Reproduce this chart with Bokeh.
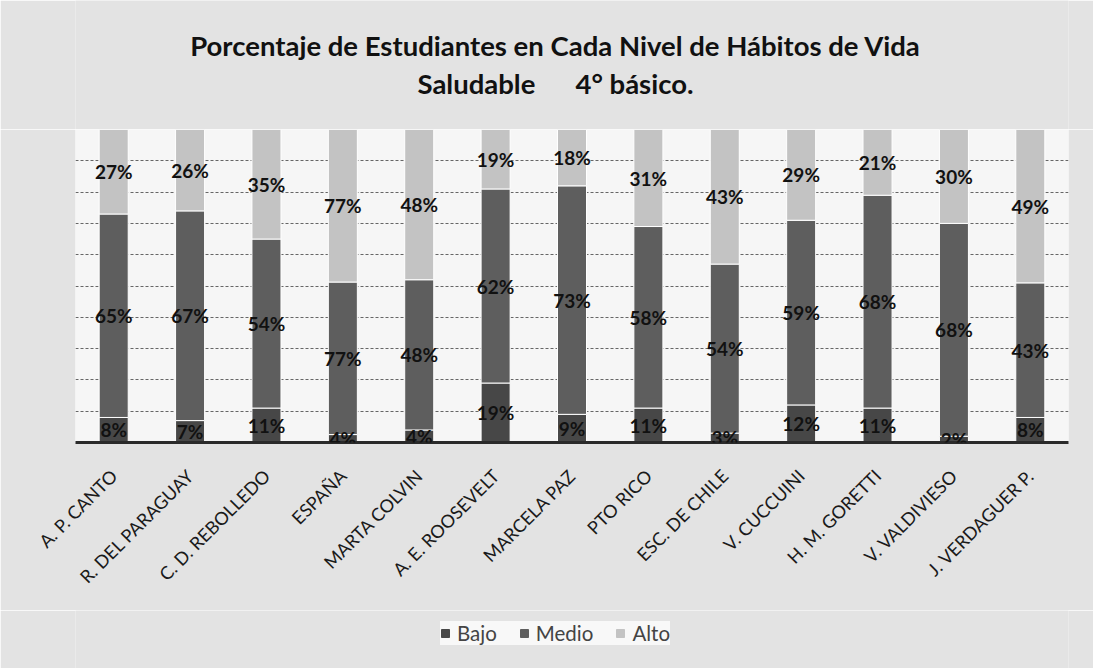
import numpy as np
from bokeh.plotting import figure
from bokeh.layouts import column
from bokeh.models import (ColumnDataSource, FactorRange, LabelSet, Legend, LegendItem,
                          SingleIntervalTicker, Label)
from bokeh.core.properties import value
from bokeh.embed import file_html
from bokeh.resources import INLINE

# ---- data (percent labels as printed on the chart) ----
schools = ["A. P. CANTO", "R. DEL PARAGUAY", "C. D. REBOLLEDO", "ESPAÑA", "MARTA COLVIN",
           "A. E. ROOSEVELT", "MARCELA PAZ", "PTO RICO", "ESC. DE CHILE", "V. CUCCUINI",
           "H. M. GORETTI", "V. VALDIVIESO", "J. VERDAGUER P."]
bajo = [8, 7, 11, 4, 4, 19, 9, 11, 3, 12, 11, 2, 8]
medio = [65, 67, 54, 77, 48, 62, 73, 58, 54, 59, 68, 68, 43]
alto = [27, 26, 35, 77, 48, 19, 18, 31, 43, 29, 21, 30, 49]
levels = ["Bajo", "Medio", "Alto"]
colors = ["#474747", "#5e5e5e", "#c3c3c3"]

title1 = "Porcentaje de Estudiantes en Cada Nivel de Hábitos de Vida"
title2 = "Saludable\u00a0\u00a0\u00a0\u00a0\u00a0\u00a04° básico."

FONT = "Lato"
BG = "#e3e3e3"
W = 1093
LEFT, RIGHT = 75, 25

# ---- title strip (x in px, y in px from bottom of the strip) ----
tf = figure(width=W, height=129, x_range=(LEFT, W - RIGHT), y_range=(0, 129),
            output_backend="svg", toolbar_location=None, min_border=0,
            min_border_left=LEFT, min_border_right=RIGHT,
            border_fill_color=BG, background_fill_color=BG)
tf.outline_line_color = None
tf.axis.visible = False
tf.grid.visible = False
for txt, yy in ((title1, 84), (title2, 46)):
    tf.add_layout(Label(x=555, y=yy, text=txt, text_align="center", text_baseline="middle",
                        text_font=FONT, text_font_style="bold", text_font_size="27.5px",
                        text_color="#111111"))

# ---- main chart: 100 % stacked bars ----
b = np.array(bajo, float); m = np.array(medio, float); a = np.array(alto, float)
tot = b + m + a
fb, fm, fa = b / tot, m / tot, a / tot

src = ColumnDataSource(dict(x=schools, Bajo=fb, Medio=fm, Alto=fa))

p = figure(x_range=FactorRange(*schools, range_padding=0), y_range=(0, 1),
           width=W, height=481, output_backend="svg", toolbar_location=None,
           min_border_left=LEFT, min_border_right=RIGHT, min_border_top=0,
           min_border_bottom=168,
           border_fill_color=BG, background_fill_color="#f6f6f6")
p.outline_line_color = None

rs = p.vbar_stack(levels, x="x", width=0.38, color=colors, line_color="white",
                  line_width=1, source=src)

lx, ly, lt = [], [], []
for i, s in enumerate(schools):
    lx += [s, s, s]
    ly += [fb[i] / 2, fb[i] + fm[i] / 2, fb[i] + fm[i] + fa[i] / 2]
    lt += [f"{bajo[i]}%", f"{medio[i]}%", f"{alto[i]}%"]
lsrc = ColumnDataSource(dict(x=lx, y=ly, t=lt))
p.add_layout(LabelSet(x="x", y="y", text="t", source=lsrc, text_align="center",
                      text_baseline="middle", text_font=value(FONT), text_font_style="bold",
                      text_font_size="19px", text_color="#111111"))

p.yaxis.visible = False
p.yaxis.ticker = SingleIntervalTicker(interval=0.1, num_minor_ticks=0)
p.ygrid.grid_line_color = "#666666"
p.ygrid.grid_line_dash = "3 2"
p.ygrid.grid_line_width = 1
p.xgrid.grid_line_color = None

ax = p.xaxis[0]
ax.axis_line_width = 3
ax.axis_line_color = "#2a2a2a"
ax.major_tick_line_color = None
ax.minor_tick_line_color = None
ax.major_label_orientation = np.pi / 4
ax.major_label_standoff = 24
ax.major_label_text_font = FONT
ax.major_label_text_font_size = "18px"
ax.major_label_text_color = "#1a1a1a"

# ---- legend strip ----
lf = figure(width=W, height=58, x_range=(0, 1), y_range=(0, 1), output_backend="svg",
            toolbar_location=None, min_border=0, min_border_left=LEFT,
            min_border_right=RIGHT, border_fill_color=BG, background_fill_color=BG)
lf.outline_line_color = None
lf.axis.visible = False
lf.grid.visible = False
dummies = [lf.vbar(x=[-5], top=[-5], width=0.1, color=c) for c in colors]
legend = Legend(items=[LegendItem(label=l, renderers=[r]) for l, r in zip(levels, dummies)],
                orientation="horizontal", location=(365, 23),
                label_text_font=FONT, label_text_font_size="20.5px",
                glyph_width=10, glyph_height=10, spacing=22, label_standoff=7,
                background_fill_color="#f8f8f8", background_fill_alpha=1,
                border_line_color=None, padding=8, margin=0)
lf.add_layout(legend, "center")

open("out.html", "w").write(file_html(column(tf, p, lf, spacing=0), INLINE))
